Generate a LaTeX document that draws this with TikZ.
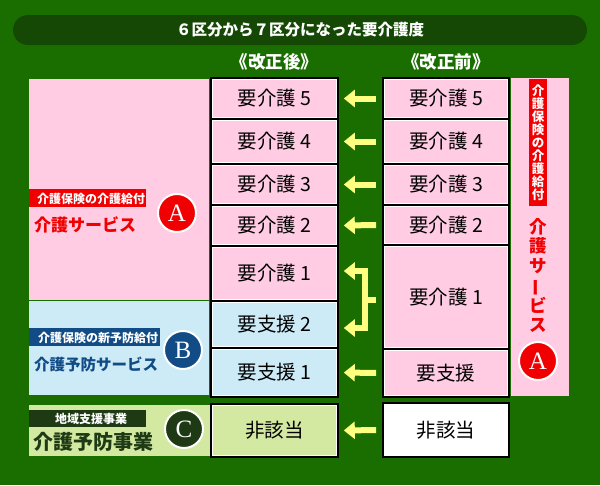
\documentclass[tikz,border=0pt]{standalone}
\usepackage{fontspec}
\newfontfamily\jp{Noto Sans CJK JP}
\newfontfamily\serifL{Liberation Serif}
\usetikzlibrary{arrows.meta,calc}
\definecolor{bggreen}{HTML}{1A6E00}
\definecolor{bardark}{HTML}{154805}
\definecolor{cpink}{HTML}{FFCCE4}
\definecolor{cblue}{HTML}{CDEBF7}
\definecolor{cgreen}{HTML}{D3E8A0}
\definecolor{tagred}{HTML}{F00000}
\definecolor{tagblue}{HTML}{124C86}
\definecolor{tagdark}{HTML}{1E3A14}
\definecolor{yarr}{HTML}{FFFF80}
\tikzset{
  cellbox/.style={draw=black, line width=1.6, inner sep=0, font=\jp\fontsize{19.5}{21}\selectfont, text=black},
  tagbox/.style={anchor=west, inner sep=0, text=white, font=\jp\bfseries\fontsize{12}{13}\selectfont, text depth=0},
  letter/.style={circle, draw=white, line width=2, minimum size=38, inner sep=0, text=white, font=\serifL\fontsize{25}{25}\selectfont},
  yarrow/.style={draw=yarr, line width=6, -{Triangle[length=11pt,width=17pt]}, shorten <=6, shorten >=5},
  yline/.style={draw=yarr, line width=6},
  hdr/.style={text=white, font=\jp\bfseries\fontsize{17.5}{19}\selectfont},
}
\begin{document}
\begin{tikzpicture}[x=1pt,y=-1pt]
\useasboundingbox (0,0) rectangle (600,485);
\fill[bggreen] (0,0) rectangle (600,485);
% title
\node[fill=bardark, rounded corners=15, minimum width=574, minimum height=30, inner sep=0,
      text=white, font=\jp\bfseries\fontsize{15.5}{17}\selectfont] (title) at (300,30) {６区分から７区分になった要介護度};
\node[hdr] (hnew) at (274.5,62) {《改正後》};
\node[hdr] (hold) at (446,62) {《改正前》};
% left regions
\fill[cpink] (29,79) rectangle (209,300);
\fill[cblue] (29,301) rectangle (209,395);
\fill[cgreen] (29,405) rectangle (211,456);
% right strip
\fill[cpink] (511,78) rectangle (569,396);
% middle column
\node[cellbox, fill=cpink, minimum width=127, minimum height=41] (n5) at (274.5,98.5) {要介護 5};
\node[cellbox, fill=cpink, minimum width=127, minimum height=45] (n4) at (274.5,141.5) {要介護 4};
\node[cellbox, fill=cpink, minimum width=127, minimum height=41] (n3) at (274.5,184.5) {要介護 3};
\node[cellbox, fill=cpink, minimum width=127, minimum height=41] (n2) at (274.5,225.5) {要介護 2};
\node[cellbox, fill=cpink, minimum width=127, minimum height=55] (n1) at (274.5,273.5) {要介護 1};
\node[cellbox, fill=cblue, minimum width=127, minimum height=47] (ns2) at (274.5,324.5) {要支援 2};
\node[cellbox, fill=cblue, minimum width=127, minimum height=49] (ns1) at (274.5,372.5) {要支援 1};
\node[cellbox, fill=cgreen, minimum width=127, minimum height=53] (nna) at (274.5,430.5) {非該当};
% right column
\node[cellbox, fill=cpink, minimum width=126, minimum height=41] (o5) at (446,98.5) {要介護 5};
\node[cellbox, fill=cpink, minimum width=126, minimum height=45] (o4) at (446,141.5) {要介護 4};
\node[cellbox, fill=cpink, minimum width=126, minimum height=41] (o3) at (446,184.5) {要介護 3};
\node[cellbox, fill=cpink, minimum width=126, minimum height=40] (o2) at (446,225) {要介護 2};
\node[cellbox, fill=cpink, minimum width=126, minimum height=104] (o1) at (446,297) {要介護 1};
\node[cellbox, fill=cpink, minimum width=126, minimum height=48] (os) at (446,373) {要支援};
\node[cellbox, fill=white, minimum width=126, minimum height=54] (ona) at (446,430) {非該当};
% inner white frames
\foreach \n in {n5,n4,n3,n2,n1,ns2,ns1,nna,o5,o4,o3,o2,o1,os}
  \draw[white, line width=0.9] ($(\n.north west)+(2.6pt,-2.6pt)$) rectangle ($(\n.south east)+(-2.6pt,2.6pt)$);
% arrows
\draw[yarrow] (o5.west) -- (n5.east);
\draw[yarrow] (o4.west) -- (n4.east);
\draw[yarrow] (o3.west) -- (n3.east);
\draw[yarrow] (o2.west) -- (n2.east);
\draw[yarrow] (os.west) -- (ns1.east);
\draw[yarrow] (ona.west) -- (nna.east);
\coordinate (bjT) at (365,271);
\coordinate (bjB) at (365,328);
\coordinate (bjM) at (365,300);
\draw[yline, shorten <=6] (o1.west |- bjM) -- (bjM);
\draw[yline, line cap=rect] (bjT) -- (bjB);
\draw[yarrow, shorten <=0] (bjT) -- (bjT -| n1.east);
\draw[yarrow, shorten <=0] (bjB) -- (bjB -| ns2.east);
% left labels A
\node[tagbox, fill=tagred, minimum width=117, minimum height=18] (tagA) at (29,198) {\hspace{7pt}介護保険の介護給付};
\node[anchor=west, inner sep=0, text=tagred, font=\jp\bfseries\fontsize{17}{19}\selectfont] (svcA) at (34,225) {介護サービス};
\node[letter, fill=tagred] (cA) at (177,213) {A};
% B
\node[tagbox, fill=tagblue, minimum width=131, minimum height=18] (tagB) at (29,337) {\hspace{7pt}介護保険の新予防給付};
\node[anchor=west, inner sep=0, text=tagblue, font=\jp\bfseries\fontsize{15.5}{17}\selectfont] (svcB) at (34,364) {介護予防サービス};
\node[letter, fill=tagblue] (cB) at (183,350) {B};
% C
\node[tagbox, fill=tagdark, minimum width=117, minimum height=17] (tagC) at (29,418.5) {\hspace{7pt}地域支援事業};
\node[anchor=west, inner sep=0, text=tagdark, font=\jp\bfseries\fontsize{20}{22}\selectfont] (svcC) at (33,442) {介護予防事業};
\node[letter, fill=tagdark] (cC) at (184,429) {C};
% right vertical labels
\node[fill=tagred, minimum width=18, minimum height=127, inner sep=0, text=white, align=center,
      font=\jp\bfseries\fontsize{12.5}{13}\selectfont] (vtag) at (538,142.5) {介\\護\\保\\険\\の\\介\\護\\給\\付};
\node[inner sep=0, text=tagred, align=center, font=\jp\bfseries\fontsize{17.5}{19.5}\selectfont] (vsvc) at (538,275.5)
  {介\\護\\サ\\\rotatebox[origin=c]{90}{ー}\\ビ\\ス};
\node[letter, fill=tagred] (cA2) at (538,361) {A};
\end{tikzpicture}
\end{document}
